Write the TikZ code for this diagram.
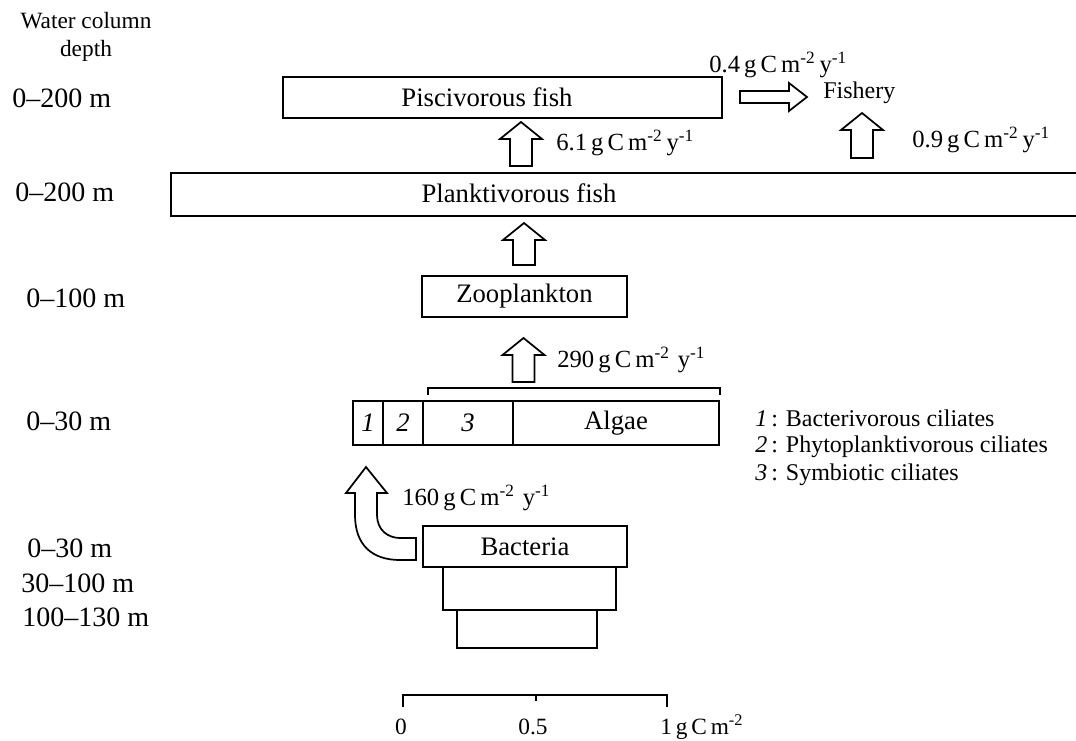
\documentclass[tikz,border=0pt]{standalone}
\usepackage{fontspec}
\setmainfont{Liberation Serif}
\tikzset{
  box/.style={draw, line width=1.3pt, inner sep=0pt, rectangle},
  lab/.style={inner sep=0pt, font=\fontsize{20}{22}\selectfont},
  depthlab/.style={inner sep=0pt, anchor=west, font=\fontsize{21}{23}\selectfont},
  flowlab/.style={inner sep=0pt, anchor=west, font=\fontsize{18.5}{20}\selectfont},
  leglab/.style={inner sep=0pt, anchor=west, font=\fontsize{18}{20}\selectfont},
  blockarrow/.style={draw, line width=1.3pt, fill=white, line join=miter},
}
\newcommand{\uparr}[3]{% center x, tip y, bottom y (px)
  \draw[blockarrow] ({#1-11},#3) -- ({#1-11},{#2+17}) -- ({#1-21},{#2+17}) -- (#1,#2)
    -- ({#1+21},{#2+17}) -- ({#1+11},{#2+17}) -- ({#1+11},#3) -- cycle;}
\newcommand{\flux}[1]{#1\,g\,C\,m\textsuperscript{-2}\,y\textsuperscript{-1}}
\begin{document}
\begin{tikzpicture}[x=0.75pt,y=-0.75pt]
\useasboundingbox (0,0) rectangle (1076,740);
\clip (0,0) rectangle (1076,740);
\fill[white] (0,0) rectangle (1076,740);

% header
\node[inner sep=0pt, align=center, font=\fontsize{17.5}{21}\selectfont] (hdr) at (86,37) {Water column\\depth};

% depth labels
\node[depthlab] (d1) at (12,98) {0--200 m};
\node[depthlab] (d2) at (15,192) {0--200 m};
\node[depthlab] (d3) at (26,298) {0--100 m};
\node[depthlab] (d4) at (26,421) {0--30 m};
\node[depthlab] (d5) at (27,548) {0--30 m};
\node[depthlab] (d6) at (21,583) {30--100 m};
\node[depthlab] (d7) at (22,617) {100--130 m};

% boxes
\node[box, minimum width={439*0.75pt}, minimum height={41*0.75pt}] (pisc) at (502.5,97.5) {};
\node[lab] (pisctxt) at (487,97) {Piscivorous fish};
\node[box, minimum width={914*0.75pt}, minimum height={43*0.75pt}] (plank) at (628,194.5) {};
\node[lab] (planktxt) at (519,193) {Planktivorous fish};
\node[box, lab, minimum width={205*0.75pt}, minimum height={41*0.75pt}] (zoo) at (524.5,296.5) {Zooplankton};

% algae row
\node[box, minimum width={30*0.75pt}, minimum height={44*0.75pt}, font=\fontsize{20}{22}\selectfont\itshape] (c1) at (368,423) {1};
\node[box, minimum width={40*0.75pt}, minimum height={44*0.75pt}, font=\fontsize{20}{22}\selectfont\itshape] (c2) at (403,423) {2};
\node[box, minimum width={90*0.75pt}, minimum height={44*0.75pt}, font=\fontsize{20}{22}\selectfont\itshape] (c3) at (468,423) {3};
\node[box, lab, minimum width={206*0.75pt}, minimum height={44*0.75pt}] (algae) at (616,423) {Algae};
\draw[line width=1.3pt] (428,395) -- (428,388) -- (720,388) -- (720,395);

% bacteria
\node[box, lab, minimum width={204*0.75pt}, minimum height={41*0.75pt}] (bact) at (525,546.5) {Bacteria};
\node[box, minimum width={173*0.75pt}, minimum height={43*0.75pt}] (bact2) at (529.5,588.5) {};
\node[box, minimum width={140*0.75pt}, minimum height={38*0.75pt}] (bact3) at (527,629) {};

% block arrows
\uparr{521}{122}{166}
\uparr{524}{223}{265}
\uparr{523.5}{338}{382}
\uparr{862}{113}{158}
\draw[blockarrow] (740,91) -- (789,91) -- (789,83) -- (807,97) -- (789,111) -- (789,103) -- (740,103) -- cycle;
% curved arrow bacteria -> ciliates 1
\draw[blockarrow] (416,560) -- (400,560) .. controls (372,560) and (355,545) .. (355,515)
  -- (355,493) -- (346,493) -- (366,467) -- (387,493) -- (377,493) -- (377,515)
  .. controls (377,530) and (388,538) .. (400,538) -- (416,538) -- cycle;

% flow labels
\node[flowlab] (f04) at (709,65) {\flux{0.4}};
\node[leglab] (fish) at (823,93) {Fishery};
\node[flowlab] (f61) at (556,143) {\flux{6.1}};
\node[flowlab] (f09) at (912,140) {\flux{0.9}};
\node[flowlab] (f290) at (557,360) {290\,g\,C\,m\textsuperscript{-2}\,\,y\textsuperscript{-1}};
\node[flowlab] (f160) at (402,498) {160\,g\,C\,m\textsuperscript{-2}\,\,y\textsuperscript{-1}};

% legend
\node[leglab] (l1) at (755,418) {\textit{1}\,: Bacterivorous ciliates};
\node[leglab] (l2) at (755,447) {\textit{2}\,: Phytoplanktivorous ciliates};
\node[leglab] (l3) at (755,475) {\textit{3}\,: Symbiotic ciliates};

% scale bar
\draw[line width=1.3pt] (403,707) -- (403,695) -- (667,695) -- (667,707);
\draw[line width=1.3pt] (536,695) -- (536,701);
\node[inner sep=0pt, font=\fontsize{17.5}{20}\selectfont] (s0) at (401,727) {0};
\node[inner sep=0pt, font=\fontsize{17.5}{20}\selectfont] (s05) at (533,727) {0.5};
\node[inner sep=0pt, anchor=west, font=\fontsize{17.5}{20}\selectfont] (s1) at (660,727) {1\,g\,C\,m\textsuperscript{-2}};
\end{tikzpicture}
\end{document}
